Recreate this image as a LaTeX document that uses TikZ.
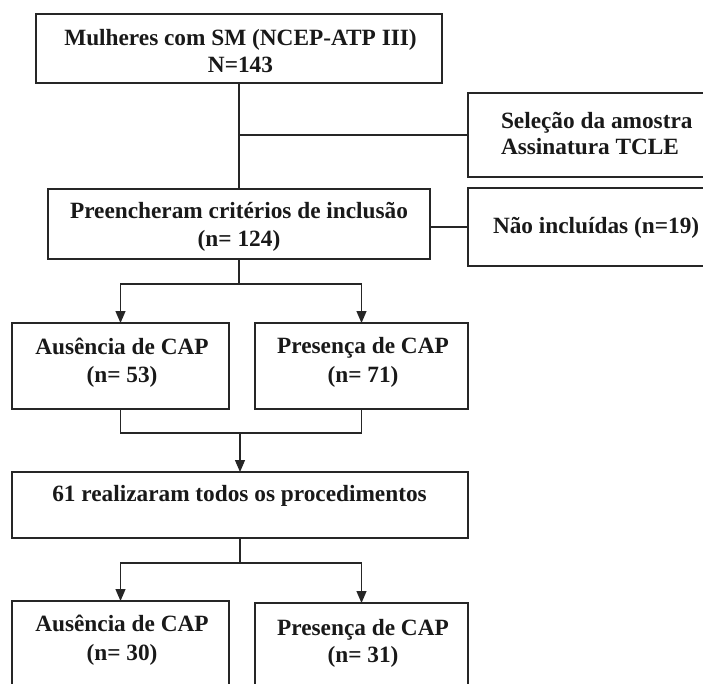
\documentclass[tikz,border=0pt]{standalone}
\usepackage{fontspec}
\setmainfont{Liberation Serif}
\usetikzlibrary{arrows.meta}
\tikzset{
  box/.style={draw=black!85, line width=1.2pt, inner sep=0pt, outer sep=0pt, fill=white},
  txt/.style={inner sep=0pt, outer sep=0pt, font=\fontsize{23.3}{28}\selectfont\bfseries, text=black!90},
  conn/.style={draw=black!85, line width=1.2pt},
  arr/.style={conn, -{Triangle[length=12pt,width=10pt]}}
}
\begin{document}
\begin{tikzpicture}[x=1pt,y=-1pt]
\useasboundingbox (0,0) rectangle (703,683);
\clip (0,0) rectangle (703,683);
\fill[white] (0,0) rectangle (703,683);
% boxes
\node[box, minimum width=406pt, minimum height=69pt] (A) at (239,48.5) {};
\node[box, minimum width=252pt, minimum height=84pt] (S) at (594,135) {};
\node[box, minimum width=382pt, minimum height=70pt] (B) at (239,224) {};
\node[box, minimum width=252pt, minimum height=78pt] (N) at (594,227) {};
\node[box, minimum width=217pt, minimum height=86pt] (C1) at (120.5,366) {};
\node[box, minimum width=213pt, minimum height=86pt] (C2) at (361.5,366) {};
\node[box, minimum width=456pt, minimum height=66pt] (D) at (240,505) {};
\node[box, minimum width=217pt, minimum height=99pt] (E1) at (120.5,650.5) {};
\node[box, minimum width=213pt, minimum height=97pt] (E2) at (361.5,651.5) {};
% texts
\node[txt, anchor=base] (tA1) at (240.5,45) {Mulheres com SM (NCEP-ATP III)};
\node[txt, anchor=base] (tA2) at (240.5,72.5) {N=143};
\node[txt, anchor=base west] (tS1) at (501,128) {Seleção da amostra};
\node[txt, anchor=base west] (tS2) at (501,154) {Assinatura TCLE};
\node[txt, anchor=base] (tB1) at (239,218) {Preencheram critérios de inclusão};
\node[txt, anchor=base] (tB2) at (239,246) {(n= 124)};
\node[txt, anchor=base west] (tN) at (493,233) {Não incluídas (n=19)};
\node[txt, anchor=base] (tC11) at (122,354) {Ausência de CAP};
\node[txt, anchor=base] (tC12) at (122,382) {(n= 53)};
\node[txt, anchor=base] (tC21) at (363,353) {Presença de CAP};
\node[txt, anchor=base] (tC22) at (363,382) {(n= 71)};
\node[txt, anchor=base] (tD) at (239.5,501.5) {61 realizaram todos os procedimentos};
\node[txt, anchor=base] (tE11) at (122,631.5) {Ausência de CAP};
\node[txt, anchor=base] (tE12) at (122,660) {(n= 30)};
\node[txt, anchor=base] (tE21) at (363,635) {Presença de CAP};
\node[txt, anchor=base] (tE22) at (363,662.5) {(n= 31)};
% connectors
\coordinate (a1) at (239,135);
\draw[conn] (A.south) -- (B.north);
\draw[conn] (a1) -- (S.west);
\draw[conn] (B.east |- N.west) -- (N.west);
\coordinate (b1) at (239,284);
\draw[conn] (B.south) -- (b1);
\draw[arr] (b1) -| (C1.north);
\draw[arr] (b1) -| (C2.north);
\coordinate (m1) at (240,433);
\draw[conn] (C1.south) |- (m1);
\draw[conn] (C2.south) |- (m1);
\draw[arr] (m1) -- (D.north);
\coordinate (d1) at (240,563);
\draw[conn] (D.south) -- (d1);
\draw[arr] (d1) -| (E1.north);
\draw[arr] (d1) -| (E2.north);
\end{tikzpicture}
\end{document}
